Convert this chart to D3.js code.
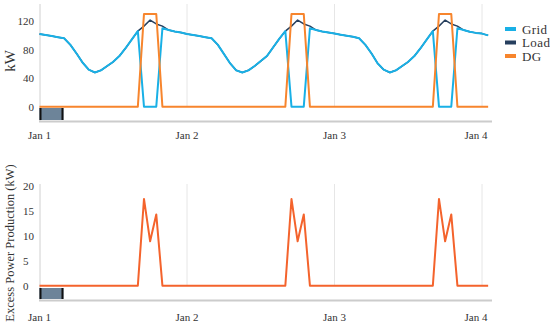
<!DOCTYPE html>
<html>
<head>
<meta charset="utf-8">
<script src="https://cdn.jsdelivr.net/npm/d3@7"></script>
<style>
  html, body { margin: 0; padding: 0; background: #fff; }
  svg text { font-family: "Liberation Serif", "Times New Roman", serif; fill: #333; }
</style>
</head>
<body>
<div id="chart"></div>
<script>
// hourly values, Jan 1 00:00 -> Jan 4 01:00
const hours = d3.range(0, 74);

const loadKW = [
  102, 100.5, 99, 97.5, 96, 87, 75, 62, 52, 48, 51, 57, 63, 71, 82, 94, 106, 113, 121.5, 116, 113, 107.5, 105.5, 104,
  102, 100.5, 99, 97.5, 96, 87, 74, 61, 51, 48, 51, 57, 64, 71, 83, 95, 106, 113, 121.5, 116, 113, 107.5, 105.5, 104,
  102.5, 101, 99.5, 98, 96, 87, 75, 61, 52, 48, 51, 57, 63, 71, 82, 94, 106, 113, 121.5, 116, 113, 107.5, 105, 103.5,
  102.5, 100
];

const gridKW = [
  102, 100.5, 99, 97.5, 96, 87, 75, 62, 52, 48, 51, 57, 63, 71, 82, 94, 106, 0, 0, 0, 110, 107.5, 105.5, 104,
  102, 100.5, 99, 97.5, 96, 87, 74, 61, 51, 48, 51, 57, 64, 71, 83, 95, 106, 0, 0, 0, 110, 107.5, 105.5, 104,
  102.5, 101, 99.5, 98, 96, 87, 75, 61, 52, 48, 51, 57, 63, 71, 82, 94, 106, 0, 0, 0, 110, 107.5, 105, 103.5,
  102.5, 100
];

const dgKW = [
  0, 0, 0, 0, 0, 0, 0, 0, 0, 0, 0, 0, 0, 0, 0, 0, 0, 130, 130, 130, 0, 0, 0, 0,
  0, 0, 0, 0, 0, 0, 0, 0, 0, 0, 0, 0, 0, 0, 0, 0, 0, 130, 130, 130, 0, 0, 0, 0,
  0, 0, 0, 0, 0, 0, 0, 0, 0, 0, 0, 0, 0, 0, 0, 0, 0, 130, 130, 130, 0, 0, 0, 0,
  0, 0
];

const excessKW = [
  0, 0, 0, 0, 0, 0, 0, 0, 0, 0, 0, 0, 0, 0, 0, 0, 0, 17.4, 8.9, 14.3, 0, 0, 0, 0,
  0, 0, 0, 0, 0, 0, 0, 0, 0, 0, 0, 0, 0, 0, 0, 0, 0, 17.4, 8.9, 14.3, 0, 0, 0, 0,
  0, 0, 0, 0, 0, 0, 0, 0, 0, 0, 0, 0, 0, 0, 0, 0, 0, 17.4, 8.9, 14.3, 0, 0, 0, 0,
  0, 0
];

const topTicks = [0, 40, 80, 120];
const bottomTicks = [0, 5, 10, 15, 20];
const legendNames = ['Grid', 'Load', 'DG'];
const navigatorHours = [0, 3.9];

const width = 550;
const height = 325;
const start = Date.UTC(2021, 0, 1);
const toDate = h => new Date(start + h * 3600e3);

const svg = d3.select('#chart')
  .append('svg')
  .attr('width', width)
  .attr('height', height);

// shared x scale
const x = d3.scaleUtc()
  .domain([toDate(0), toDate(73)])
  .range([39.5, 39.5 + 73 * 147.5 / 24]);
const dayTicks = [1, 2, 3].map(d => toDate(d * 24));
const fmt = d3.utcFormat('%b %-d');

function drawPanel(cfg) {
  const y = d3.scaleLinear().domain(cfg.domain).range([cfg.zeroY, cfg.topY]);
  const g = svg.append('g');

  // day gridlines
  g.selectAll('line.grid')
    .data(dayTicks)
    .join('line')
    .attr('x1', d => x(d)).attr('x2', d => x(d))
    .attr('y1', cfg.topY).attr('y2', cfg.zeroY)
    .attr('stroke', '#e6e6e6').attr('stroke-width', 1);

  // left axis line, runs down through the navigator
  g.append('line')
    .attr('x1', 40).attr('x2', 40)
    .attr('y1', cfg.topY).attr('y2', cfg.navBottom)
    .attr('stroke', '#d0d0d0');

  // y tick labels
  g.selectAll('text.ytick')
    .data(cfg.ticks)
    .join('text')
    .attr('x', cfg.tickX)
    .attr('y', d => y(d) + 4)
    .attr('text-anchor', cfg.tickAnchor)
    .style('font-size', '11px')
    .text(d => d);

  // navigator strip
  g.append('line')
    .attr('x1', 39).attr('x2', 492)
    .attr('y1', cfg.navBottom).attr('y2', cfg.navBottom)
    .attr('stroke', '#cccccc').attr('stroke-width', 2);
  g.append('rect')
    .attr('x', x(toDate(navigatorHours[0])))
    .attr('y', cfg.navTop)
    .attr('width', x(toDate(navigatorHours[1])) - x(toDate(navigatorHours[0])))
    .attr('height', cfg.navBottom - 1.5 - cfg.navTop)
    .attr('fill', '#6d8499');
  g.selectAll('line.handle')
    .data(navigatorHours)
    .join('line')
    .attr('x1', d => x(toDate(d)) + (d === 0 ? 1 : -1))
    .attr('x2', d => x(toDate(d)) + (d === 0 ? 1 : -1))
    .attr('y1', cfg.navTop).attr('y2', cfg.navBottom - 1.5)
    .attr('stroke', '#111').attr('stroke-width', 2);

  // x labels (last one nudged left to stay inside)
  g.selectAll('text.xtick')
    .data([toDate(0)].concat(dayTicks))
    .join('text')
    .attr('x', (d, i) => i === 3 ? x(d) - 6 : x(d))
    .attr('y', cfg.labelY)
    .attr('text-anchor', 'middle')
    .style('font-size', '11px')
    .text(d => fmt(d));

  // axis title
  g.append('text')
    .attr('transform', `translate(${cfg.titleX},${cfg.titleY}) rotate(-90)`)
    .attr('text-anchor', 'middle')
    .style('font-size', cfg.titleSize)
    .text(cfg.title);

  // series
  cfg.series.forEach(s => {
    const line = d3.line()
      .x((d, i) => x(toDate(hours[i])))
      .y(d => y(d));
    g.append('path')
      .datum(s.values)
      .attr('d', line)
      .attr('fill', 'none')
      .attr('stroke', s.color)
      .attr('stroke-width', s.width)
      .attr('stroke-linejoin', 'round');
  });
}

drawPanel({
  domain: [0, 144], zeroY: 106.7, topY: 4,
  ticks: topTicks, tickX: 34, tickAnchor: 'end',
  navTop: 108, navBottom: 121.5, labelY: 139,
  title: 'kW', titleX: 15, titleY: 61, titleSize: '15px',
  series: [
    { values: loadKW, color: '#263f5e', width: 1.5 },
    { values: gridKW, color: '#19b0e6', width: 2 },
    { values: dgKW, color: '#f7852d', width: 2 }
  ]
});

drawPanel({
  domain: [0, 20.4], zeroY: 285.7, topY: 184,
  ticks: bottomTicks, tickX: 23, tickAnchor: 'start',
  navTop: 288, navBottom: 300.5, labelY: 321,
  title: 'Excess Power Production (kW)', titleX: 14, titleY: 243, titleSize: '12.5px',
  series: [
    { values: excessKW, color: '#f4632c', width: 2 }
  ]
});

// legend
const legendColors = ['#19b0e6', '#263f5e', '#f7852d'];
const legend = svg.append('g')
  .selectAll('g')
  .data(legendNames)
  .join('g')
  .attr('transform', (d, i) => `translate(505,${29 + i * 13.5})`);
legend.append('line')
  .attr('x1', 0).attr('x2', 11)
  .attr('stroke', (d, i) => legendColors[i])
  .attr('stroke-width', 4);
legend.append('text')
  .attr('x', 17).attr('y', 4.5)
  .style('font-size', '13px')
  .style('letter-spacing', '0.4px')
  .text(d => d);
</script>
</body>
</html>
